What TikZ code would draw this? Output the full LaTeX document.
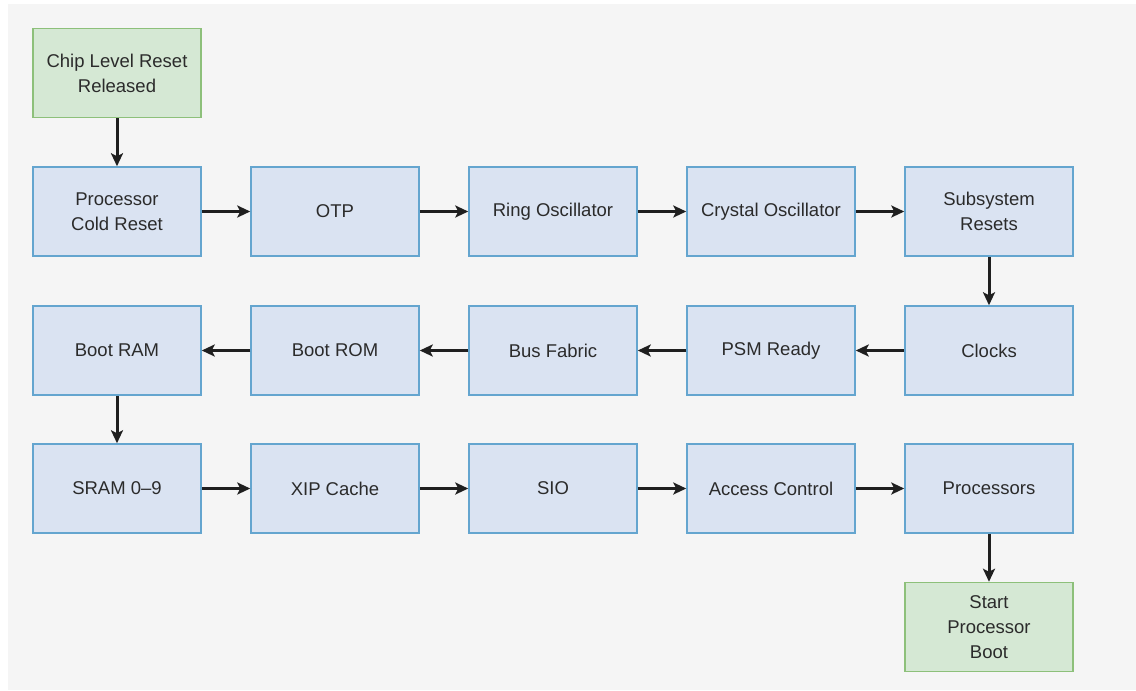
\documentclass[tikz,border=0pt]{standalone}
\usepackage{fontspec}
\setmainfont{Liberation Sans}
\usetikzlibrary{arrows.meta}
\definecolor{bgcol}{HTML}{F5F5F5}
\definecolor{bluefill}{HTML}{DAE3F2}
\definecolor{blueline}{HTML}{64A5CF}
\definecolor{greenfill}{HTML}{D5E8D4}
\definecolor{greenline}{HTML}{8DC07A}
\definecolor{txtcol}{HTML}{2B2B2B}
\begin{document}
\begin{tikzpicture}[x=1pt,y=-1pt,
  every node/.style={rectangle,minimum width=168pt,minimum height=89pt,align=center,
    text=txtcol,font=\fontsize{18.5}{25}\selectfont,line width=1.5pt},
  stage/.style={draw=blueline,fill=bluefill},
  ends/.style={draw=greenline,fill=greenfill},
  flow/.style={line width=3pt,draw=black!88,-{Stealth[length=13pt,width=12pt,inset=3pt]}}]
\useasboundingbox (0,0) rectangle (1136,691);
\fill [bgcol] (8,4) rectangle (1136,690);

%%% START %%%
\node [ends] at (117,73) (chip) {Chip Level Reset\\Released};

%%% ROW 1 %%%
\node [stage] at (117,211.5) (cold) {Processor\\Cold Reset};
\node [stage] at (335,211.5) (otp) {OTP};
\node [stage] at (553,211.5) (ring) {Ring Oscillator};
\node [stage] at (771,211.5) (xosc) {Crystal Oscillator};
\node [stage] at (989,211.5) (subsys) {Subsystem\\Resets};

%%% ROW 2 %%%
\node [stage] at (989,350.5) (clocks) {Clocks};
\node [stage] at (771,350.5) (psm) {PSM Ready};
\node [stage] at (553,350.5) (fabric) {Bus Fabric};
\node [stage] at (335,350.5) (rom) {Boot ROM};
\node [stage] at (117,350.5) (ram) {Boot RAM};

%%% ROW 3 %%%
\node [stage] at (117,488.5) (sram) {SRAM 0--9};
\node [stage] at (335,488.5) (xip) {XIP Cache};
\node [stage] at (553,488.5) (sio) {SIO};
\node [stage] at (771,488.5) (access) {Access Control};
\node [stage] at (989,488.5) (procs) {Processors};

%%% END %%%
\node [ends] at (989,627) (boot) {Start\\Processor\\Boot};

\draw [flow] (chip) -- (cold);
\draw [flow] (cold) -- (otp);
\draw [flow] (otp) -- (ring);
\draw [flow] (ring) -- (xosc);
\draw [flow] (xosc) -- (subsys);
\draw [flow] (subsys) -- (clocks);
\draw [flow] (clocks) -- (psm);
\draw [flow] (psm) -- (fabric);
\draw [flow] (fabric) -- (rom);
\draw [flow] (rom) -- (ram);
\draw [flow] (ram) -- (sram);
\draw [flow] (sram) -- (xip);
\draw [flow] (xip) -- (sio);
\draw [flow] (sio) -- (access);
\draw [flow] (access) -- (procs);
\draw [flow] (procs) -- (boot);
\end{tikzpicture}
\end{document}
